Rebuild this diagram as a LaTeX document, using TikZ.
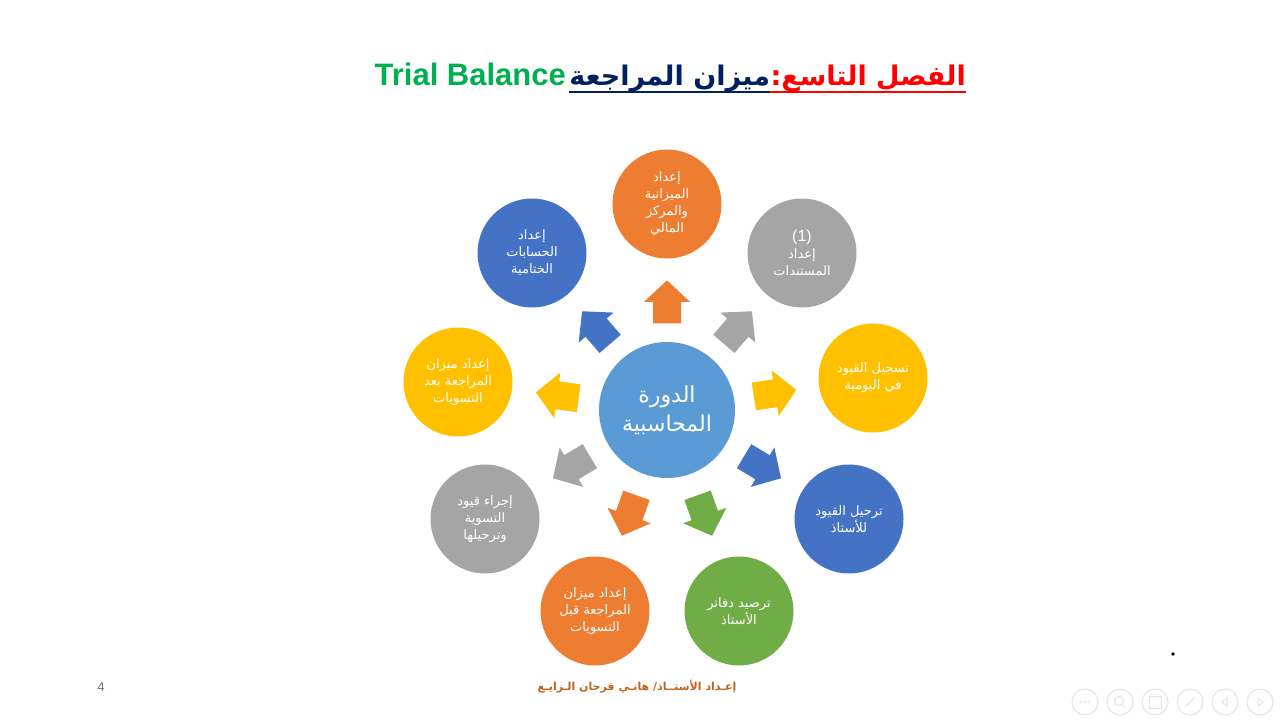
\documentclass[tikz,border=0pt]{standalone}
\usepackage{fontspec}
\usetikzlibrary{calc}
\TeXXeTstate=1
\setmainfont{Liberation Sans}
\newfontfamily\arabicfont[Script=Arabic]{DejaVu Sans}
\newcommand\artxt[1]{{\arabicfont\beginR #1\endR}}
\definecolor{cOrange}{HTML}{ED7D31}
\definecolor{cGray}{HTML}{A5A5A5}
\definecolor{cYellow}{HTML}{FFC000}
\definecolor{cBlue}{HTML}{4472C4}
\definecolor{cGreen}{HTML}{70AD47}
\definecolor{cCenter}{HTML}{5B9BD5}
\definecolor{tRed}{HTML}{FF0000}
\definecolor{tNavy}{HTML}{002060}
\definecolor{tGreen}{HTML}{00B050}
\definecolor{fBrown}{HTML}{C0651E}
\definecolor{uiGray}{HTML}{E4E4E4}
\newcommand\blockarr[3]{%
  \pgfmathanglebetweenpoints{\pgfpointanchor{#1}{center}}{\pgfpointanchor{#2}{center}}%
  \let\barang\pgfmathresult
  \fill[#3, shift={($(#1)!0.525!(#2)$)}, rotate=\barang]
    (-21.5,-14) -- (0,-14) -- (0,-23) -- (21.5,0) -- (0,23) -- (0,14) -- (-21.5,14) -- cycle;}
\tikzset{
  stage/.style={circle, minimum size=109, inner sep=0, text=white, align=center,
    font=\fontsize{13}{17}\selectfont},
  hub/.style={circle, minimum size=136, inner sep=0, text=white, align=center,
    font=\fontsize{22}{29}\selectfont, fill=cCenter},
  uibtn/.style={circle, draw=uiGray, line width=1, minimum size=26, inner sep=0}
}
\begin{document}
\begin{tikzpicture}[x=1pt,y=-1pt]
\useasboundingbox[fill=white] (0,0) rectangle (1280,720);

% title
\node[anchor=base east, inner sep=0, text=tRed, font=\fontsize{27}{30}\selectfont\bfseries] (t1) at (966,85) {\artxt{الفصل التاسع:}};
\node[anchor=base east, inner sep=0, text=tNavy, font=\fontsize{27}{30}\selectfont\bfseries] (t2) at (t1.base west) {\artxt{ميزان المراجعة}};
\node[anchor=base east, inner sep=0, text=tGreen, font=\fontsize{31}{34}\selectfont\bfseries] (t3) at ([xshift=-3]t2.base west) {Trial Balance};
\draw[tRed, line width=2.5] ([yshift=-7]t1.base west) -- ([yshift=-7]t1.base east);
\draw[tNavy, line width=2.5] ([yshift=-7]t2.base west) -- ([yshift=-7]t2.base east);

% hub
\node[hub] (c) at (667,410) {\artxt{الدورة}\\ \artxt{المحاسبية}};

% stages
\node[stage, fill=cOrange] (n0) at (667,204) {\artxt{إعداد}\\ \artxt{الميزانية}\\ \artxt{والمركز}\\ \artxt{المالي}};
\node[stage, fill=cGray] (n1) at (802,253) {{\fontsize{16}{18}\selectfont (1)}\\ \artxt{إعداد}\\ \artxt{المستندات}};
\node[stage, fill=cYellow] (n2) at (873,378) {\artxt{تسجيل القيود}\\ \artxt{في اليومية}};
\node[stage, fill=cBlue] (n3) at (849,519) {\artxt{ترحيل القيود}\\ \artxt{للأستاذ}};
\node[stage, fill=cGreen] (n4) at (739,611) {\artxt{ترصيد دفاتر}\\ \artxt{الأستاذ}};
\node[stage, fill=cOrange] (n5) at (595,611) {\artxt{إعداد ميزان}\\ \artxt{المراجعة قبل}\\ \artxt{التسويات}};
\node[stage, fill=cGray] (n6) at (485,519) {\artxt{إجراء  قيود}\\ \artxt{التسوية}\\ \artxt{وترحيلها}};
\node[stage, fill=cYellow] (n7) at (458,382) {\artxt{إعداد ميزان}\\ \artxt{المراجعة بعد}\\ \artxt{التسويات}};
\node[stage, fill=cBlue] (n8) at (532,253) {\artxt{إعداد}\\ \artxt{الحسابات}\\ \artxt{الختامية}};

% block arrows
\blockarr{c}{n0}{cOrange}
\blockarr{c}{n1}{cGray}
\blockarr{c}{n2}{cYellow}
\blockarr{c}{n3}{cBlue}
\blockarr{c}{n4}{cGreen}
\blockarr{c}{n5}{cOrange}
\blockarr{c}{n6}{cGray}
\blockarr{c}{n7}{cYellow}
\blockarr{c}{n8}{cBlue}

% footer
\node[text=fBrown, font=\fontsize{11}{13}\selectfont\bfseries] (ft) at (637,687) {\artxt{إعـداد الأستــاذ/ هانـي فرحان الـزايـع}};
\node[text=black!55, font=\fontsize{13}{15}\selectfont] (pg) at (101,687) {4};

% presenter controls
\fill[black] (1173,654) circle[radius=1.8];
\node[uibtn] (b1) at (1085,702) {};
\node[uibtn] (b2) at (1120,702) {};
\node[uibtn] (b3) at (1155,702) {};
\node[uibtn] (b4) at (1190,702) {};
\node[uibtn] (b5) at (1225,702) {};
\node[uibtn] (b6) at (1260,702) {};
\foreach \dx in {-4,0,4} \draw[uiGray] ([xshift=\dx]b1.center) circle[radius=1.4];
\draw[uiGray, line width=1] ([shift={(-1,-1)}]b2.center) circle[radius=4.5] ([shift={(2,2)}]b2.center) -- ([shift={(5,5)}]b2.center);
\draw[uiGray, line width=1] ([shift={(-6,-6)}]b3.center) rectangle ([shift={(6,6)}]b3.center);
\draw[uiGray, line width=1] ([shift={(-5,5)}]b4.center) -- ([shift={(5,-5)}]b4.center);
\draw[uiGray, line width=1] ([shift={(2,-4)}]b5.center) -- ([shift={(-3,0)}]b5.center) -- ([shift={(2,4)}]b5.center) -- cycle;
\draw[uiGray, line width=1] ([shift={(-2,-4)}]b6.center) -- ([shift={(3,0)}]b6.center) -- ([shift={(-2,4)}]b6.center) -- cycle;
\end{tikzpicture}
\end{document}
